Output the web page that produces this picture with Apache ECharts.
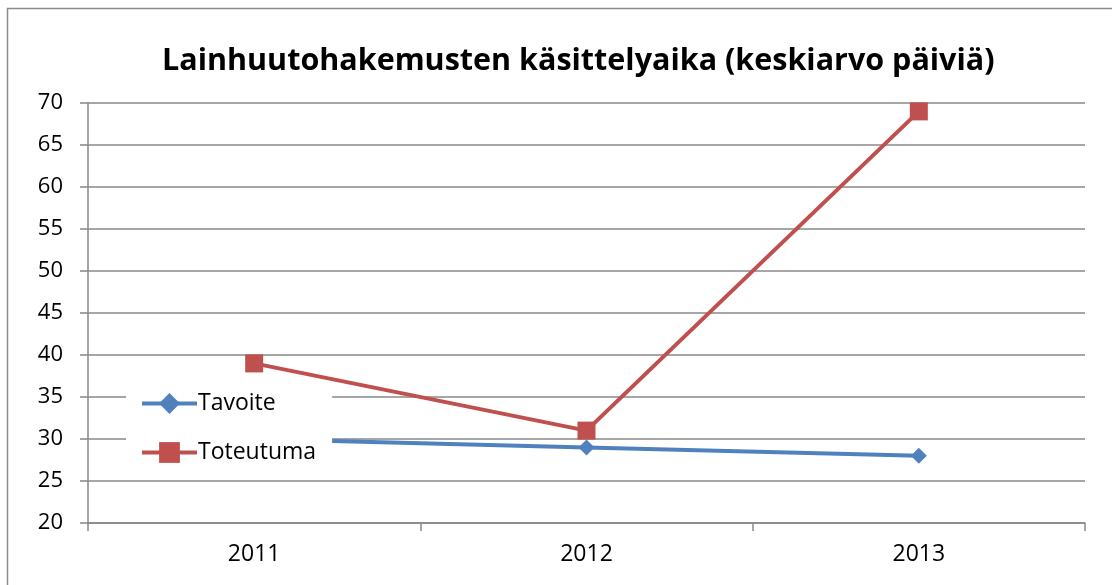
<!DOCTYPE html>
<html>
<head>
<meta charset="utf-8">
<script src="https://cdn.jsdelivr.net/npm/echarts@6/dist/echarts.min.js"></script>
<style>
    html, body { margin: 0; padding: 0; background: #fff; }
    #chart { width: 1112px; height: 585px; }
</style>
</head>
<body>
<div id="chart"></div>
<script>
var years = ['2011', '2012', '2013'];
var tavoite = [30, 29, 28];
var toteutuma = [39, 31, 69];
var yTicks = { min: 20, max: 70, step: 5 };

window.onload = function () {
    var myChart = echarts.init(document.getElementById('chart'));
    var font = 'Open Sans';

    var option = {
        backgroundColor: '#fff',
        animation: false,
        graphic: [{
            type: 'rect',
            shape: { x: 7.5, y: 8.5, width: 1300, height: 700 },
            style: { fill: 'none', stroke: '#8c8c8c', lineWidth: 1.5 },
            z: -1
        }],
        // titteli hieman oikealle kuten alkuperäisessä
        title: {
            text: 'Lainhuutohakemusten käsittelyaika (keskiarvo päiviä)',
            left: 162,
            top: 46,
            padding: 0,
            textStyle: { fontFamily: font, fontWeight: 'bold', fontSize: 30.5, color: '#000' }
        },
        legend: {
            orient: 'vertical',
            left: 126,
            top: 383,
            padding: [9, 16, 12, 14],
            itemGap: 26,
            itemWidth: 55,
            itemHeight: 26,
            backgroundColor: '#fff',
            lineStyle: { width: 4 },
            textStyle: { fontFamily: font, fontSize: 23, color: '#000', padding: [0, 0, 0, -4] },
            data: ['Tavoite', 'Toteutuma'],
            z: 10
        },
        grid: { left: 88, right: 27, top: 103, bottom: 62 },
        xAxis: {
            type: 'category',
            data: years,
            boundaryGap: true,
            axisLine: { lineStyle: { color: '#888', width: 1.5 } },
            axisTick: { show: true, length: 8, interval: 0, lineStyle: { color: '#888', width: 1.5 } },
            axisLabel: { fontFamily: font, fontSize: 23, color: '#000', margin: 20 }
        },
        yAxis: {
            type: 'value',
            min: yTicks.min,
            max: yTicks.max,
            interval: yTicks.step,
            axisLine: { show: true, lineStyle: { color: '#888', width: 1.5 } },
            axisTick: { show: true, length: 8, lineStyle: { color: '#888', width: 1.5 } },
            axisLabel: { fontFamily: font, fontSize: 22, color: '#000', margin: 25 },
            splitLine: { lineStyle: { color: '#888', width: 1.5 } }
        },
        series: [{
            name: 'Tavoite',
            type: 'line',
            data: tavoite,
            symbol: 'diamond',
            symbolSize: 16,
            color: '#4F81BD',
            lineStyle: { width: 4, color: '#4F81BD' },
            itemStyle: { color: '#4F81BD' }
        }, {
            name: 'Toteutuma',
            type: 'line',
            data: toteutuma,
            symbol: 'rect',
            symbolSize: 18,
            color: '#C0504D',
            lineStyle: { width: 4, color: '#C0504D' },
            itemStyle: { color: '#C0504D' }
        }]
    };
    myChart.setOption(option);
}
</script>
</body>
</html>
